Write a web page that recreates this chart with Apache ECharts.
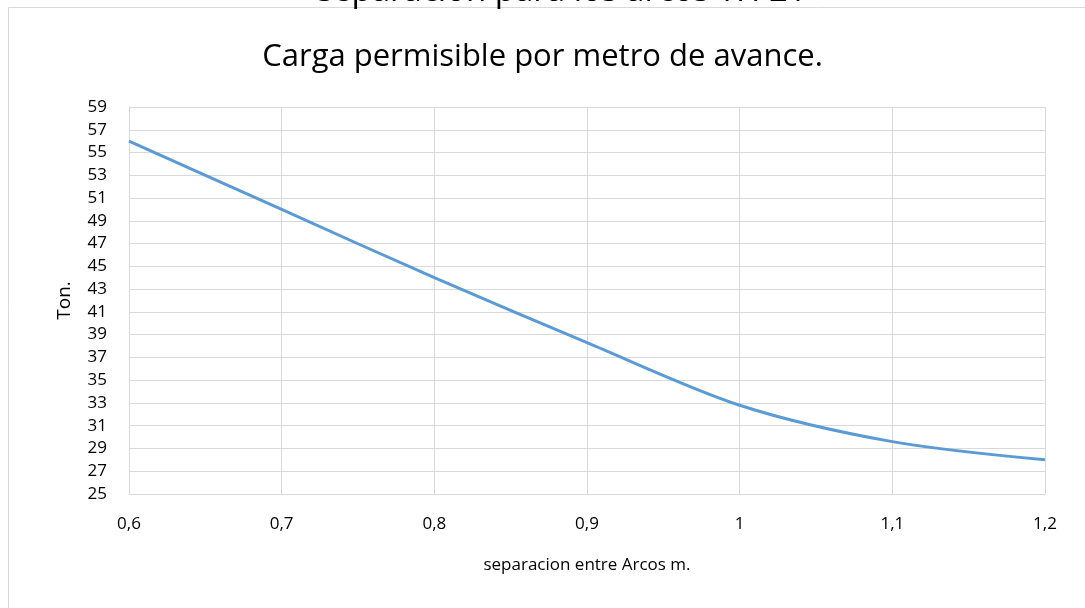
<!DOCTYPE html>
<html>
<head>
<meta charset="utf-8">
<script src="https://cdn.jsdelivr.net/npm/echarts@6/dist/echarts.min.js"></script>
<style>
html,body{margin:0;padding:0;background:#fff;}
#c{width:1085px;height:608px;}
</style>
</head>
<body>
<div id="c"></div>
<script>
const separacion = [0.6, 0.7, 0.8, 0.9, 1.0, 1.1, 1.2];
const cargaTon = [56, 50, 44, 38.3, 32.8, 29.6, 28];
const yMin = 25, yMax = 59, yStep = 2;
const xMin = 0.6, xMax = 1.2, xStep = 0.1;

const FONT = '"Open Sans", "Liberation Sans", sans-serif';
const chart = echarts.init(document.getElementById('c'));
chart.setOption({
  animation: false,
  backgroundColor: '#fff',
  graphic: [
    {type: 'rect', shape: {x: 8.5, y: 7.5, width: 1200, height: 800}, style: {fill: 'none', stroke: '#d9d9d9', lineWidth: 1}, silent: true},
    {type: 'text', x: 562, y: 8, style: {text: 'separacion para los arcos TH 21', font: '33px ' + FONT, fill: '#000', align: 'center', verticalAlign: 'bottom'}, silent: true}
  ],
  title: {
    text: 'Carga permisible por metro de avance.',
    left: 'center', top: 37,
    textStyle: {fontFamily: FONT, fontSize: 31, fontWeight: 'normal', color: '#000'}
  },
  grid: {left: 129, right: 40, top: 107, bottom: 114},
  xAxis: {
    type: 'value', min: xMin, max: xMax, interval: xStep,
    name: 'separacion entre Arcos m.', nameLocation: 'middle', nameGap: 63,
    nameTextStyle: {fontFamily: FONT, fontSize: 17, color: '#000'},
    axisLine: {show: true, lineStyle: {color: '#d9d9d9'}},
    axisTick: {show: false},
    splitLine: {show: true, lineStyle: {color: '#d9d9d9', width: 1}},
    axisLabel: {fontFamily: FONT, fontSize: 17, color: '#000', margin: 22,
      formatter: v => String(Math.round(v * 10) / 10).replace('.', ',')}
  },
  yAxis: {
    type: 'value', min: yMin, max: yMax, interval: yStep,
    name: 'Ton.', nameLocation: 'middle', nameGap: 55, nameRotate: 90,
    nameTextStyle: {fontFamily: FONT, fontSize: 19, color: '#000'},
    axisLine: {show: true, lineStyle: {color: '#d9d9d9'}},
    axisTick: {show: false},
    splitLine: {show: true, lineStyle: {color: '#d9d9d9', width: 1}},
    axisLabel: {fontFamily: FONT, fontSize: 17, color: '#000', margin: 22}
  },
  series: [{
    type: 'line',
    data: separacion.map((x, i) => [x, cargaTon[i]]),
    smooth: 0.3,
    showSymbol: false,
    lineStyle: {color: '#5b9bd5', width: 3}
  }]
});
</script>
</body>
</html>
